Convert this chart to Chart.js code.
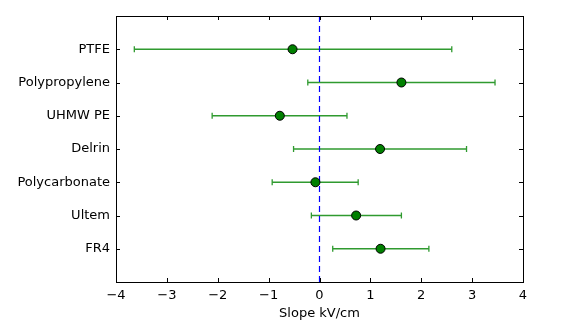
<!DOCTYPE html>
<html lang="en">
<head>
    <meta charset="UTF-8">
    <title>Slope per material</title>
    <script src="https://cdn.jsdelivr.net/npm/chart.js"></script>
    <style>
        html, body { margin: 0; padding: 0; background: #fff; }
        #wrap { width: 581px; height: 332px; }
    </style>
</head>
<body>
    <div id="wrap"><canvas id="slopeChart"></canvas></div>

    <script>
        // Materials, top to bottom
        const materials = ['PTFE', 'Polypropylene', 'UHMW PE', 'Delrin', 'Polycarbonate', 'Ultem', 'FR4'];
        // slope (kV/cm), with lower / upper ends of the error bar
        const slope = [-0.53, 1.61, -0.78, 1.19, -0.08, 0.72, 1.20];
        const slopeLow = [-3.64, -0.23, -2.11, -0.51, -0.93, -0.16, 0.26];
        const slopeHigh = [2.60, 3.45, 0.54, 2.89, 0.76, 1.61, 2.15];
        const xTicks = [-4, -3, -2, -1, 0, 1, 2, 3, 4];

        const n = materials.length;
        const rowPos = i => n - i;   // PTFE on top

        const fontSpec = { family: 'DejaVu Sans', size: 13 };

        const datasets = [];
        datasets.push({
            data: slope.map((v, i) => ({ x: v, y: rowPos(i) })),
            pointRadius: 4.5,
            pointBackgroundColor: '#008000',
            pointBorderColor: '#000',
            pointBorderWidth: 1,
            showLine: false
        });
        // dashed line at zero
        datasets.push({
            data: [{ x: 0, y: 0 }, { x: 0, y: n + 1 }],
            showLine: true,
            borderColor: '#0000ff',
            borderWidth: 1.2,
            borderDash: [6, 4],
            pointRadius: 0
        });
        // error bars with caps
        materials.forEach((m, i) => {
            datasets.push({
                data: [{ x: slopeLow[i], y: rowPos(i) }, { x: slopeHigh[i], y: rowPos(i) }],
                showLine: true,
                borderColor: '#2f9a2f',
                borderWidth: 1.3,
                pointStyle: 'line',
                rotation: 90,
                pointRadius: 3,
                pointBorderColor: '#2f9a2f',
                pointBorderWidth: 1.3
            });
        });

        // frame and inward ticks, matplotlib style
        const framePlugin = {
            id: 'frame',
            afterDraw(chart) {
                const { ctx, chartArea: { left, right, top, bottom }, scales: { x, y } } = chart;
                ctx.save();
                ctx.strokeStyle = '#000';
                ctx.lineWidth = 1;
                ctx.beginPath();
                x.ticks.forEach(t => {
                    const px = Math.round(x.getPixelForValue(t.value)) + 0.5;
                    ctx.moveTo(px, bottom); ctx.lineTo(px, bottom - 4);
                    ctx.moveTo(px, top); ctx.lineTo(px, top + 4);
                });
                y.ticks.forEach(t => {
                    const py = Math.round(y.getPixelForValue(t.value)) + 0.5;
                    ctx.moveTo(left, py); ctx.lineTo(left + 4, py);
                    ctx.moveTo(right, py); ctx.lineTo(right - 4, py);
                });
                ctx.stroke();
                ctx.strokeRect(Math.round(left) + 0.5, Math.round(top) + 0.5,
                    Math.round(right - left), Math.round(bottom - top));
                ctx.restore();
            }
        };

        new Chart(document.getElementById('slopeChart'), {
            type: 'scatter',
            data: { datasets: datasets },
            options: {
                responsive: true,
                maintainAspectRatio: false,
                animation: false,
                layout: { padding: { top: 16, right: 58, left: 0, bottom: 0 } },
                plugins: { legend: { display: false }, tooltip: { enabled: false } },
                scales: {
                    x: {
                        min: -4,
                        max: 4,
                        afterBuildTicks: s => { s.ticks = xTicks.map(v => ({ value: v })); },
                        afterFit: s => { s.height = 50; },
                        grid: { display: false, drawTicks: false },
                        border: { display: false },
                        ticks: {
                            color: '#000',
                            font: fontSpec,
                            padding: 6,
                            callback: v => (v < 0 ? '\u2212' + Math.abs(v) : String(v))
                        },
                        title: {
                            display: true,
                            text: 'Slope kV/cm',
                            color: '#000',
                            font: fontSpec,
                            padding: { top: 2, bottom: 11 }
                        }
                    },
                    y: {
                        min: 0,
                        max: n + 1,
                        afterBuildTicks: s => { s.ticks = materials.map((m, i) => ({ value: rowPos(i) })); },
                        afterFit: s => { s.width = 116; },
                        grid: { display: false, drawTicks: false },
                        border: { display: false },
                        ticks: {
                            color: '#000',
                            font: fontSpec,
                            padding: 6,
                            callback: v => materials[n - v]
                        }
                    }
                }
            },
            plugins: [framePlugin]
        });
    </script>
</body>
</html>
